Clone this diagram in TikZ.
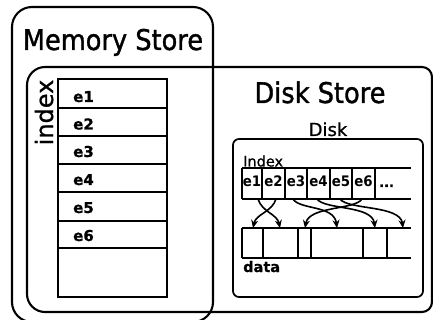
\documentclass[tikz,border=0pt]{standalone}
\usepackage{fontspec}
\setmainfont{DejaVu Sans}[FakeBold=0.8]
\newfontfamily\titlefont{DejaVu Sans}[FakeStretch=0.9,FakeBold=1.2]
\newfontfamily\cellfont{DejaVu Sans Bold}[FakeStretch=0.92]
\usetikzlibrary{arrows.meta}
\begin{document}
\begin{tikzpicture}[x=1pt,y=-1pt,
  store/.style={line width=2.1pt},
  grid/.style={line width=1.6pt},
  link/.style={line width=1.6pt,-{Stealth[length=8pt,width=7pt]}},
  title/.style={font=\titlefont\fontsize{28.5}{30}\selectfont,anchor=base,inner sep=0pt},
  entry/.style={font=\bfseries\fontsize{15}{16}\selectfont,anchor=base west,inner sep=0pt},
  cellname/.style={font=\cellfont\fontsize{14.5}{15}\selectfont,anchor=base,inner sep=0pt}]
\useasboundingbox (0,0) rectangle (433,320);

% Memory Store frame
\draw[store,rounded corners=20pt] (12,7) rectangle (213,322);
\node[title] (memtitle) at (113,50) {Memory Store};

% Disk Store frame
\draw[store] (200,67) [rounded corners=10pt] -- (432,67) -- (432,312) -- (200,312)
  [rounded corners=18pt] -- (27,312) -- (27,67) -- cycle;
\node[title] (disktitle) at (320,103) {Disk Store};

% in-memory index table
\draw[grid] (58,79) rectangle (167,297);
\foreach \y in {108,136,164,192,221,248} \draw[grid] (58,\y) -- (167,\y);
\node[font=\fontsize{24}{25}\selectfont,rotate=90,anchor=base,inner sep=0pt] (idxlabel) at (53,112.5) {index};
\foreach \n/\b in {1/102,2/129.5,3/157,4/185,5/213,6/241}
  \node[entry] (m\n) at (73,\b) {e\n};

% the disk
\node[font=\fontsize{18}{19}\selectfont,anchor=base,inner sep=0pt] (disklabel) at (328,136) {Disk};
\draw[line width=1.7pt,rounded corners=6pt] (233,139) rectangle (423,297);

% on-disk index row
\node[font=\fontsize{14.5}{15}\selectfont,anchor=base west,inner sep=0pt] (indexlabel) at (243,166.5) {Index};
\draw[grid] (242,168) -- (411,168) (242,199) -- (411,199);
\foreach \x in {242,262,285,307,330,352,375} \draw[grid] (\x,168) -- (\x,199);
\foreach \n/\x in {1/252,2/273.5,3/296,4/318.5,5/341,6/363.5}
  \node[cellname] (d\n) at (\x,187) {e\n};
\node[font=\bfseries\fontsize{13}{14}\selectfont,anchor=base west,inner sep=0pt] (more) at (379,187) {...};

% data row
\draw[grid] (242,228) -- (411,228) (242,258) -- (411,258);
\foreach \x in {242,263,298,311,363,387} \draw[grid] (\x,228) -- (\x,258);
\node[font=\bfseries\fontsize{14.5}{15}\selectfont,anchor=base west,inner sep=0pt] (datalabel) at (243,272) {data};

% pointers from index entries to data blocks
\coordinate (s1) at (258,199); \coordinate (t1) at (280,228);
\coordinate (s2) at (276,199); \coordinate (t2) at (253,228);
\coordinate (s3) at (293,199); \coordinate (t3) at (337,228);
\coordinate (s4) at (317,199); \coordinate (t4) at (375,228);
\coordinate (s5) at (340,199); \coordinate (t5) at (403,228);
\coordinate (s6) at (362,199); \coordinate (t6) at (305,228);
\draw[link] (s1) .. controls (262,212) and (277,214) .. (t1);
\draw[link] (s2) .. controls (272,212) and (256,214) .. (t2);
\draw[link] (s3) .. controls (300,210) and (334,205) .. (t3);
\draw[link] (s4) .. controls (325,210) and (372,205) .. (t4);
\draw[link] (s5) .. controls (348,210) and (400,205) .. (t5);
\draw[link] (s6) .. controls (355,210) and (309,206) .. (t6);
\end{tikzpicture}
\end{document}
